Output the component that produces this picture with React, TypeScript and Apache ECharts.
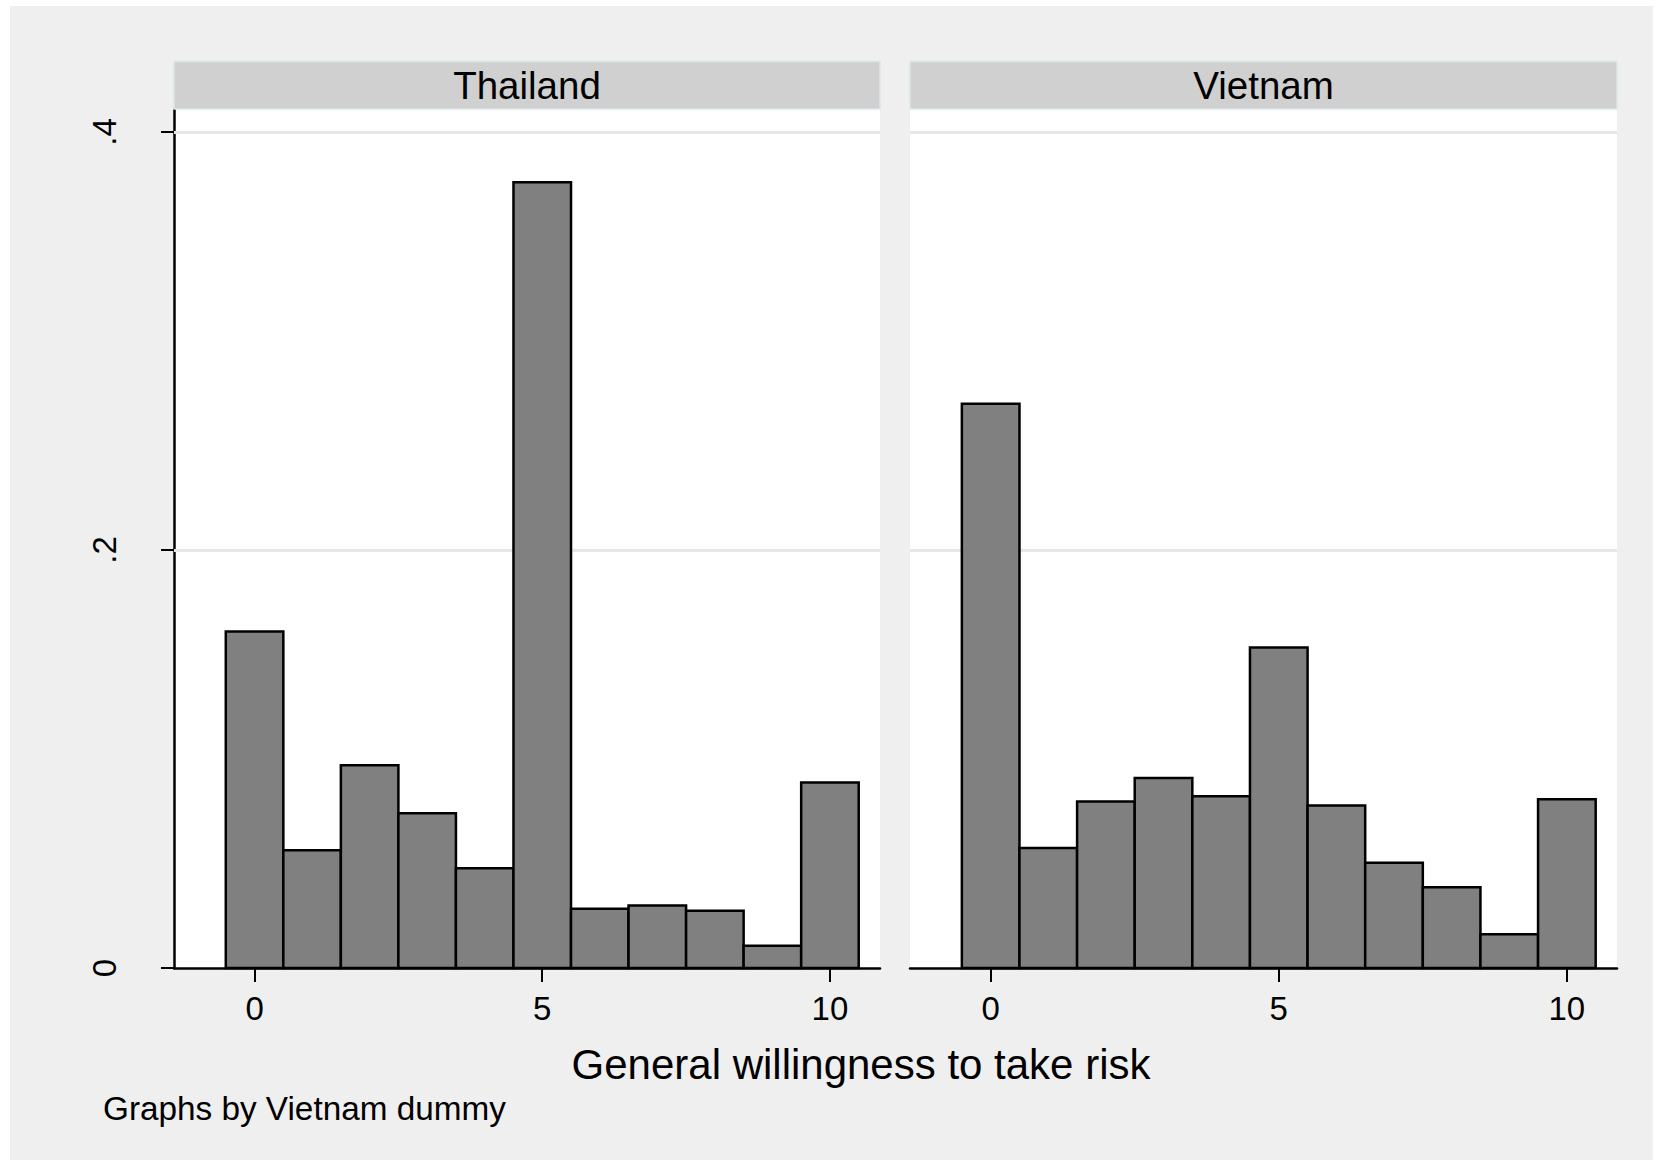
import React, { useEffect, useRef } from "react";
import * as echarts from "echarts";

// ---- data ----
const scores = [0, 1, 2, 3, 4, 5, 6, 7, 8, 9, 10];
const thailandDensity = [0.161, 0.0563, 0.097, 0.0741, 0.0477, 0.376, 0.0284, 0.0299, 0.0274, 0.0107, 0.0888];
const vietnamDensity = [0.270, 0.0574, 0.0797, 0.0909, 0.0822, 0.1533, 0.0777, 0.0503, 0.0386, 0.0162, 0.0807];
const panelTitles = ["Thailand", "Vietnam"];
const xTicks = [0, 5, 10];
const yTicks = [0, 0.2, 0.4];
const gridValues = [0.2, 0.4];
const xTitle = "General willingness to take risk";
const noteText = "Graphs by Vietnam dummy";

const FONT = '"Liberation Sans", Arial, Helvetica, sans-serif';

const panels = [
  { left: 174, width: 706 },
  { left: 910, width: 707 },
];
const PLOT_TOP = 109;
const PLOT_H = 859;

function fmtY(v: number): string {
  if (v === 0) return "0";
  return String(v).replace(/^0/, "");
}

export default function App() {
  const ref = useRef<HTMLDivElement>(null);

  useEffect(() => {
    if (!ref.current) return;
    const chart = echarts.init(ref.current, undefined, { renderer: "svg" });
    const seriesData = [thailandDensity, vietnamDensity];

    const grids = panels.map((p) => ({
      left: p.left,
      top: PLOT_TOP,
      width: p.width,
      height: PLOT_H,
      show: true,
      backgroundColor: "#ffffff",
      borderWidth: 0,
      containLabel: false,
    }));

    const xAxes = panels.map((_, i) => ({
      type: "value",
      gridIndex: i,
      min: -1.4,
      max: 10.87,
      splitLine: { show: false },
      axisLine: { show: true, onZero: false, lineStyle: { color: "#000", width: 2.5 } },
      axisTick: {
        show: true,
        customValues: xTicks,
        length: 14,
        inside: false,
        lineStyle: { color: "#000", width: 2 },
      },
      axisLabel: {
        show: true,
        customValues: xTicks,
        margin: 24,
        fontSize: 33,
        color: "#000",
        fontFamily: FONT,
        formatter: (v: number) => String(v),
      },
    }));

    const yAxes = panels.map((_, i) => ({
      type: "value",
      gridIndex: i,
      min: 0,
      max: 0.411,
      splitLine: { show: false },
      axisLine: { show: i === 0, onZero: false, lineStyle: { color: "#000", width: 2.5 } },
      axisTick: {
        show: i === 0,
        customValues: yTicks,
        length: 13,
        lineStyle: { color: "#000", width: 2 },
      },
      axisLabel: {
        show: i === 0,
        customValues: yTicks,
        rotate: 90,
        margin: 53,
        fontSize: 33,
        color: "#000",
        fontFamily: FONT,
        formatter: (v: number) => fmtY(v),
      },
    }));

    const series: any[] = [];
    panels.forEach((_, i) => {
      series.push({
        type: "line",
        xAxisIndex: i,
        yAxisIndex: i,
        data: [],
        z: 1,
        silent: true,
        markLine: {
          silent: true,
          z: 1,
          symbol: ["none", "none"],
          label: { show: false },
          lineStyle: { color: "#e6e6e6", width: 3, type: "solid" },
          data: gridValues.map((v) => ({ yAxis: v })),
        },
      });
      series.push({
        type: "custom",
        xAxisIndex: i,
        yAxisIndex: i,
        z: 3,
        encode: { x: 0, y: 1 },
        data: scores.map((s, k) => [s, seriesData[i][k]]),
        renderItem: (params: any, api: any) => {
          const x = api.value(0);
          const y = api.value(1);
          const p1 = api.coord([x - 0.5, y]);
          const p2 = api.coord([x + 0.5, 0]);
          return {
            type: "rect",
            shape: { x: p1[0], y: p1[1], width: p2[0] - p1[0], height: p2[1] - p1[1] },
            style: { fill: "#808080", stroke: "#000", lineWidth: 2.5 },
          };
        },
      });
    });

    const graphic: any[] = [
      {
        type: "rect",
        z: -10,
        shape: { x: 10, y: 6, width: 1643, height: 1154 },
        style: { fill: "#efefef" },
        silent: true,
      },
    ];
    panels.forEach((p, i) => {
      graphic.push({
        type: "rect",
        z: 5,
        shape: { x: p.left, y: 61.5, width: p.width, height: 47.5 },
        style: { fill: "#d0d0d0", stroke: "#dce6ea", lineWidth: 1.5 },
        silent: true,
      });
      graphic.push({
        type: "text",
        z: 6,
        x: p.left + p.width / 2,
        y: 85,
        style: {
          text: panelTitles[i],
          fontSize: 38.5,
          fontFamily: FONT,
          fill: "#000",
          align: "center",
          verticalAlign: "middle",
        },
        silent: true,
      });
    });
    graphic.push({
      type: "text",
      z: 6,
      x: 861,
      y: 1064,
      style: {
        text: xTitle,
        fontSize: 42,
        fontFamily: FONT,
        fill: "#000",
        align: "center",
        verticalAlign: "middle",
      },
      silent: true,
    });
    graphic.push({
      type: "text",
      z: 6,
      x: 103,
      y: 1108,
      style: {
        text: noteText,
        fontSize: 33.3,
        fontFamily: FONT,
        fill: "#000",
        align: "left",
        verticalAlign: "middle",
      },
      silent: true,
    });

    chart.setOption({
      animation: false,
      backgroundColor: "#ffffff",
      grid: grids,
      xAxis: xAxes,
      yAxis: yAxes,
      series,
      graphic,
    });

    return () => {
      chart.dispose();
    };
  }, []);

  return (
    <div
      ref={ref}
      style={{ position: "fixed", left: 0, top: 0, width: 1663, height: 1166 }}
    />
  );
}
